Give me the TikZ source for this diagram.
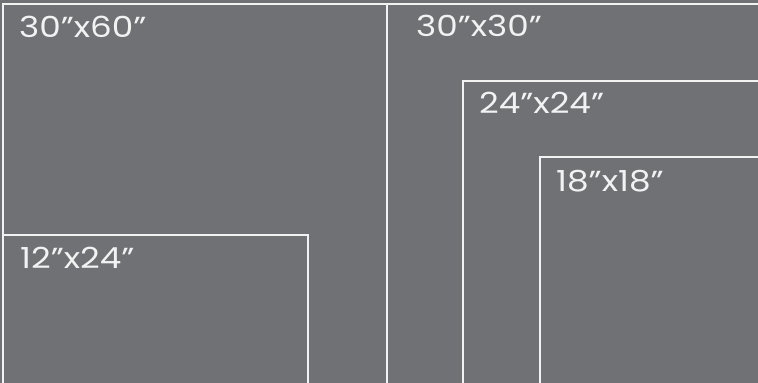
\documentclass[tikz,border=0pt]{standalone}
\usepackage{fontspec}
\setmainfont{Poppins}[FakeStretch=1.18]
\definecolor{bg}{HTML}{707175}
\definecolor{ln}{HTML}{F2F2F2}
\begin{document}
\begin{tikzpicture}[x=1pt,y=-1pt,
  frame/.style={draw=ln,line width=1.3pt},
  lbl/.style={anchor=base west,inner sep=0pt,text=ln,font=\fontsize{29}{30}\selectfont}]
\fill[bg] (0,0) rectangle (758,383);
\useasboundingbox (0,0) rectangle (758,383);
\begin{scope}
\clip (0,0) rectangle (758,383);
\draw[frame] (3,390) -- (3,4) -- (770,4);
\draw[frame] (387,4) -- (387,390);
\draw[frame] (463,390) -- (463,81) -- (770,81);
\draw[frame] (540,390) -- (540,157) -- (770,157);
\draw[frame] (3,235) -- (308,235) -- (308,390);
\end{scope}
\node[lbl] (a) at (19,37) {30"x60"};
\node[lbl] (b) at (416,36) {30"x30"};
\node[lbl] (c) at (479,113) {24"x24"};
\node[lbl] (d) at (556,191) {18"x18"};
\node[lbl] (e) at (20,268) {12"x24"};
\end{tikzpicture}
\end{document}
